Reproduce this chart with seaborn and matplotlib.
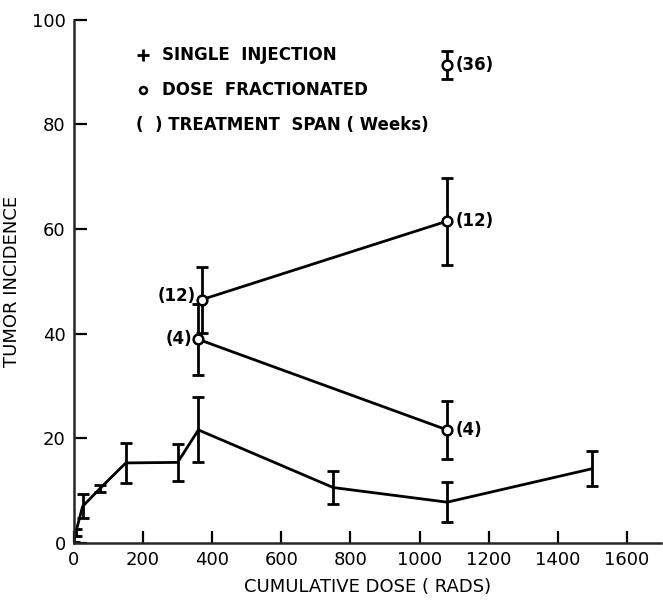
"""Tumor incidence vs cumulative dose, single injection vs dose fractionated."""

import matplotlib

matplotlib.use("Agg")
import matplotlib.pyplot as plt  # noqa: E402
import pandas as pd  # noqa: E402
import seaborn as sns  # noqa: E402

# single injection
single_dose = [0, 5, 25, 75, 150, 300, 360, 750, 1080, 1500]
single_inc = [0.8, 2.0, 7.0, 10.4, 15.3, 15.4, 21.6, 10.6, 7.8, 14.2]
single_err = [0.6, 0.6, 2.3, 0.6, 3.9, 3.6, 6.2, 3.2, 3.8, 3.3]

# dose fractionated, by treatment span (weeks)
frac4_dose = [360, 1080]
frac4_inc = [38.9, 21.6]
frac4_err = [6.8, 5.6]

frac12_dose = [370, 1080]
frac12_inc = [46.5, 61.5]
frac12_err = [6.3, 8.3]

frac36_dose = [1080]
frac36_inc = [91.3]
frac36_err = [2.7]

sns.set_style("ticks")
plt.rcParams["font.family"] = ["DejaVu Sans"]
plt.rcParams.update({"text.color": "black", "axes.labelcolor": "black",
                     "xtick.color": "black", "ytick.color": "black"})
NARROW = ["Liberation Sans Narrow", "DejaVu Sans"]

fig = plt.figure(figsize=(6.63, 6.03), dpi=100)
ax = fig.add_axes([0.1116, 0.0995, 0.886, 0.868])

single = pd.DataFrame({"dose": single_dose, "inc": single_inc})
sns.lineplot(data=single, x="dose", y="inc", color="black", lw=2, ax=ax,
             estimator=None, sort=False)
ax.errorbar(single_dose, single_inc, yerr=single_err, fmt="none",
            ecolor="black", elinewidth=2, capsize=4, capthick=2)

for xs, ys, es in [(frac4_dose, frac4_inc, frac4_err),
                   (frac12_dose, frac12_inc, frac12_err),
                   (frac36_dose, frac36_inc, frac36_err)]:
    d = pd.DataFrame({"dose": xs, "inc": ys})
    ax.errorbar(xs, ys, yerr=es, fmt="none", ecolor="black",
                elinewidth=2, capsize=4, capthick=2, zorder=2)
    sns.lineplot(data=d, x="dose", y="inc", color="black", lw=2, ax=ax,
                 marker="o", markersize=7, markerfacecolor="white",
                 markeredgecolor="black", markeredgewidth=1.8,
                 estimator=None, sort=False, zorder=3)

# span labels
lbl = dict(fontsize=12, fontweight="bold", family=NARROW, va="center")
ax.text(frac12_dose[0] - 18, frac12_inc[0] + 0.6, "(12)", ha="right", **lbl)
ax.text(frac4_dose[0] - 18, frac4_inc[0], "(4)", ha="right", **lbl)
ax.text(frac12_dose[1] + 25, frac12_inc[1], "(12)", ha="left", **lbl)
ax.text(frac4_dose[1] + 25, frac4_inc[1], "(4)", ha="left", **lbl)
ax.text(frac36_dose[0] + 25, frac36_inc[0], "(36)", ha="left", **lbl)

# key
key = dict(fontsize=12, fontweight="bold", family=NARROW, va="center")
ax.plot([200], [93.2], marker="+", ms=8, mew=2, color="black")
ax.text(255, 93.2, "SINGLE  INJECTION", **key)
ax.plot([200], [86.5], marker="o", ms=5, mew=1.8, mfc="white", color="black")
ax.text(255, 86.5, "DOSE  FRACTIONATED", **key)
ax.text(180, 79.8, "(  ) TREATMENT  SPAN ( Weeks)", **key)

ax.set_xlim(0, 1700)
ax.set_ylim(0, 100)
ax.set_xticks([0, 200, 400, 600, 800, 1000, 1200, 1400, 1600])
ax.set_yticks([0, 20, 40, 60, 80, 100])
ax.tick_params(direction="in", length=9, width=1.6, labelsize=13, pad=6)
ax.set_xlabel("CUMULATIVE DOSE ( RADS)", fontsize=13, labelpad=6)
ax.set_ylabel("TUMOR INCIDENCE", fontsize=13, labelpad=8)
for s in ["left", "bottom"]:
    ax.spines[s].set_linewidth(1.8)
sns.despine(ax=ax)
ax.spines["left"].set_clip_on(False)

fig.savefig("out.png", dpi=100)
plt.close(fig)
